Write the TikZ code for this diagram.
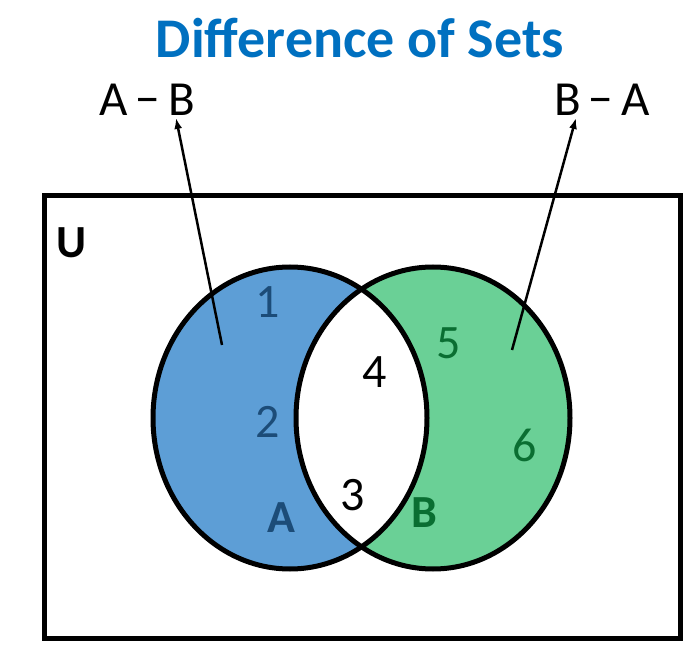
\documentclass[tikz,border=0pt]{standalone}
\usepackage{fontspec}
\setmainfont{Carlito}
\usetikzlibrary{arrows.meta,positioning}
\definecolor{TitleBlue}{RGB}{0,112,192}
\definecolor{SetBlue}{RGB}{93,158,214}
\definecolor{SetGreen}{RGB}{106,208,150}
\definecolor{DeepBlue}{RGB}{28,76,120}
\definecolor{DeepGreen}{RGB}{10,110,50}
\begin{document}
\begin{tikzpicture}[x=1pt,y=-1pt,>={Latex[length=11pt,width=8pt]},
  num/.style={font=\fontsize{48}{48}\selectfont,inner sep=0pt},
  lbl/.style={font=\fontsize{49}{49}\selectfont,inner sep=2pt}]
\useasboundingbox (0,0) rectangle (697,655);
\def\setA{(290,418) ellipse [x radius=137,y radius=151]}
\def\setB{(433,418) ellipse [x radius=137,y radius=151]}
% universe and sets
\draw[line width=5pt] (44,196) rectangle (680,638);
\fill[SetBlue] \setA; \fill[SetGreen] \setB;
\begin{scope}\clip \setA; \fill[white] \setB;\end{scope}
\draw[line width=5pt] \setA; \draw[line width=5pt] \setB;
\node[font=\fontsize{46}{46}\selectfont\bfseries] (U) at (72,243) {U};
\node[font=\fontsize{56}{56}\selectfont\bfseries,text=TitleBlue] (title) at (360,38) {Difference of Sets};
\node[lbl] (AmB) at (147,100) {A\,\char"2212\,B};
\node[lbl] (BmA) at (602,100) {B\,\char"2212\,A};
\foreach \n/\x/\y/\c in {1/268/302/DeepBlue,2/268/422/DeepBlue,3/353/495/black,4/375/372/black,5/449/343/DeepGreen,6/525/445/DeepGreen}
  \node[num,text=\c] (e\n) at (\x,\y) {\n};
\node[num,font=\fontsize{46}{46}\selectfont\bfseries,text=DeepBlue] (A) at (281,518) {A};
\node[num,font=\fontsize{46}{46}\selectfont\bfseries,text=DeepGreen] (B) at (424,513) {B};
% pointers
\coordinate (pA) at (222,345); \coordinate (pB) at (512,350);
\draw[->,line width=2.5pt] (pA) -- ([xshift=29]AmB.south);
\draw[->,line width=2.5pt] (pB) -- ([xshift=-26]BmA.south);
\end{tikzpicture}
\end{document}
